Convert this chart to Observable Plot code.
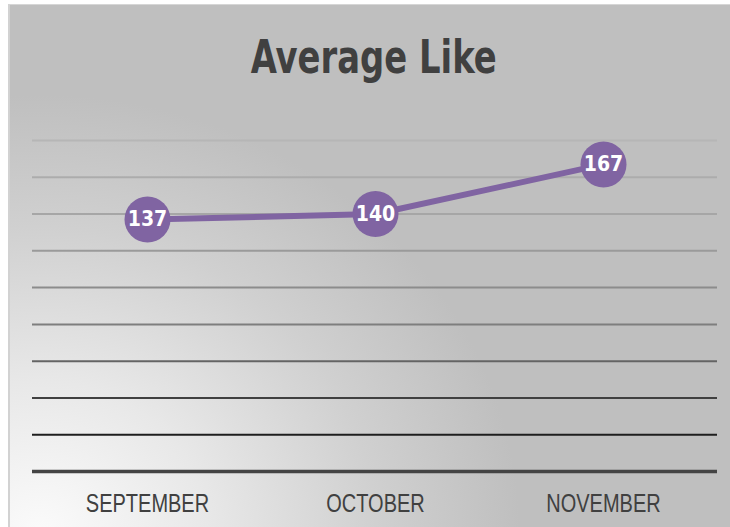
<!DOCTYPE html>
<html>
<head>
<meta charset="utf-8">
<script src="https://cdn.jsdelivr.net/npm/d3@7"></script>
<script src="https://cdn.jsdelivr.net/npm/@observablehq/plot@0.6"></script>
<style>
  html, body { margin: 0; padding: 0; background: #ffffff; }
  #wrap { position: relative; width: 730px; height: 527px; overflow: hidden; }
  #bg {
    position: absolute; left: 8px; top: 4px; width: 722px; height: 523px;
    box-sizing: border-box;
    border-left: 2px solid #d2d2d2; border-top: 1px solid #d6d6d6;
    background: radial-gradient(ellipse 480px 440px at 30px 530px, #fbfbfb 0%, #e8e8e8 35%, #d0d0d0 70%, #bfbfbf 100%);
  }
  #title {
    position: absolute; left: 0; top: 33px; width: 730px; padding-left: 17px; box-sizing: border-box;
    text-align: center; margin: 0;
  }
  #title span {
    display: inline-block; transform: scaleX(0.8);
    font-family: "DejaVu Sans Condensed", "Liberation Sans", sans-serif;
    font-weight: bold; font-size: 47px; line-height: 48px; color: #404040;
  }
  #chart { position: absolute; left: 0; top: 100px; }
</style>
</head>
<body>
<div id="wrap">
  <div id="bg"></div>
  <div id="title"><span>Average Like</span></div>
  <div id="chart"></div>
</div>
<script>
const months = ["SEPTEMBER", "OCTOBER", "NOVEMBER"];
const likes = [137, 140, 167];
const gridTicks = [0, 20, 40, 60, 80, 100, 120, 140, 160, 180];
const gridColors = ["#444444", "#1e1e1e", "#404040", "#646464", "#7e7e7e", "#8c8c8c", "#9a9a9a", "#a6a6a6", "#acacac", "#b6b6b6"];

const data = months.map((m, i) => ({month: m, value: likes[i]}));
const grid = gridTicks.map((t, i) => ({t, color: gridColors[i], w: i === 0 ? 3.5 : 2}));

const plot = Plot.plot({
  width: 730,
  height: 427,
  marginTop: 40,
  marginBottom: 56,
  marginLeft: 32,
  marginRight: 13,
  style: {background: "transparent", overflow: "visible"},
  x: {type: "point", domain: months, padding: 0.5},
  y: {domain: [0, 180], axis: null},
  marks: [
    Plot.ruleY(grid, {y: "t", stroke: "color", strokeWidth: "w"}),
    Plot.axisX({
      tickSize: 0, tickPadding: 23, fontSize: 25,
      fontFamily: "Liberation Sans, Arial, sans-serif",
      fill: "#404040", label: null
    }),
    Plot.lineY(data, {x: "month", y: "value", stroke: "#8064a2", strokeWidth: 6}),
    Plot.dot(data, {x: "month", y: "value", r: 23, fill: "#8064a2", stroke: null}),
    Plot.text(data, {
      x: "month", y: "value", text: d => String(d.value), fill: "#ffffff",
      fontSize: 21, fontWeight: "bold", fontFamily: "DejaVu Sans Condensed, Liberation Sans, sans-serif"
    })
  ]
});
// condense the month labels horizontally (narrow font look)
d3.select(plot).selectAll('g[aria-label$="tick label"] text').each(function() {
  const t = this.getAttribute("transform") || "";
  this.setAttribute("transform", t + " scale(0.8,1)");
});
document.getElementById("chart").appendChild(plot);
</script>
</body>
</html>
